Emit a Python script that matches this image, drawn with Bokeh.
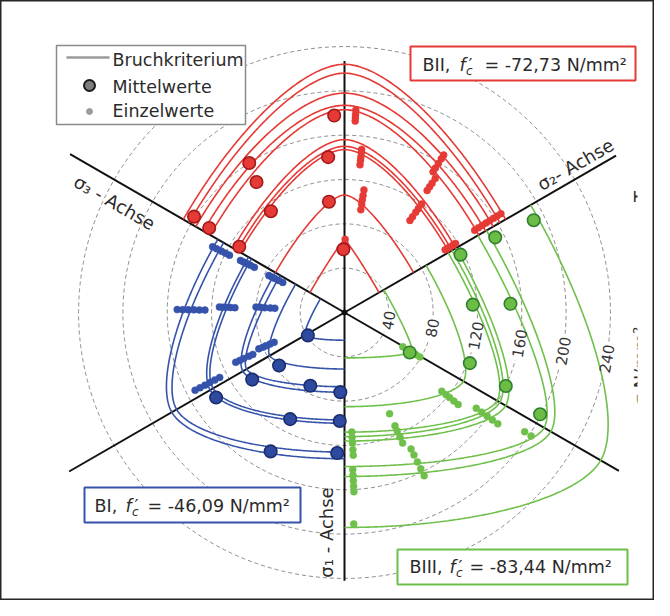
import numpy as np
from bokeh.plotting import figure
from bokeh.models import Range1d
from bokeh.core.properties import value
from bokeh.embed import file_html
from bokeh.resources import INLINE

# ---------------- data (N/mm², angles in degrees in the deviatoric plane) ----------------
ring_values = [40, 80, 120, 160, 200, 240]
ring_labels = ["40", "80", "120", "160", "200", "240"]

# Bruchkriterium curves: radius on the sector axes (rt) and on the sector bisector (rc)
bii_rt = [168, 162, 155, 147, 140, 116, 112, 109, 72, 36]
bii_rc = [224, 216, 198, 187, 183, 156, 150, 147, 106, 65]

bi_rt = [132, 126, 100, 97, 72, 67, 51, 25]
bi_rc = [180, 175, 140, 137, 106, 102, 78, 41]

biii_rt = [41, 85, 108, 112, 116, 139, 148, 194]
biii_rc = [70, 124, 159, 162, 168, 208, 215, 267]

# Mittelwerte (angle, radius)
bii_mean_ang = [93, 96, 98, 91, 122.5, 124, 126, 147.5, 148, 148]
bii_mean_r = [178, 141, 101, 57, 160, 142, 113, 161, 144, 112]
bi_mean_ang = [212, 219, 216, 213.5, 245, 243, 242, 267, 267.5, 267]
bi_mean_r = [39, 76, 103, 139, 73, 108, 142, 72, 98, 127]
biii_mean_ang = [26.5, 26.5, 26, 3.5, 3, -31.5, -22, -24.5, -27.5]
biii_mean_r = [117, 152, 190, 116, 150, 69, 122, 160, 199]

# Einzelwerte (angle of each group, radii in the group)
bii_single_ang = [86.8, 84, 81, 89.5, 57.8, 55.9, 54.6, 32.3, 31.9]
bii_single_r = [[173, 176, 179, 183], [134, 138, 141, 145, 148], [94, 99, 103, 107, 112],
                [58, 62, 66], [150, 154, 159, 164, 168], [133, 137, 141, 146],
                [102, 106, 111, 115, 120], [139, 143, 147, 151, 155, 159, 163, 167],
                [107, 111, 115, 118]]
bi_single_ang = [153.5, 153.4, 154, 179, 177.5, 176.5, 203, 204.6, 207.5]
bi_single_r = [[116, 120, 124, 129, 133], [91, 95, 99, 102, 105], [62, 66, 70, 73, 76],
               [126, 131, 136, 141, 146, 151], [99, 103, 107, 110, 113], [63, 67, 72, 76, 80],
               [69, 73, 77, 80, 84], [91, 95, 100, 104, 108], [127, 132, 137, 142, 147, 152]]
biii_single_ang = [-30.5, -39, -36, -33.5, -66, -64, -86.5, -87, -87.5]
biii_single_r = [[61, 66, 70, 75, 79], [113, 118, 122, 127, 132], [147, 153, 159, 165, 171],
                 [195, 202], [100, 112, 117, 123, 129], [137, 143, 150, 157, 164],
                 [108, 113, 118, 124, 129], [142, 147, 152, 157, 162], [191]]

# ---------------- layout ----------------
SCALE = 1.108          # px per N/mm²
W, H = 654, 600
OX, OY = 344, 312      # canvas position of the origin

RED, RED_EDGE = "#e53a35", "#a3191b"
BLUE, BLUE_FILL, BLUE_EDGE = "#3553aa", "#2e4a9e", "#1b2d6e"
GREEN, GREEN_FILL, GREEN_EDGE = "#6fc04b", "#6cbd45", "#2f7f2f"
FONT = value("DejaVu Sans")


def X(px):
    return (px - 8 - OX) / SCALE


def Y(py):
    return (OY - (py - 8)) / SCALE


def polar(r, deg):
    t = np.radians(deg)
    return np.asarray(r) * np.cos(t), np.asarray(r) * np.sin(t)


def willam_warnke(rt, rc, th):
    c = np.cos(th)
    d = rc ** 2 - rt ** 2
    num = 2 * rc * d * c + rc * (2 * rt - rc) * np.sqrt(np.maximum(4 * d * c ** 2 + 5 * rt ** 2 - 4 * rt * rc, 0))
    den = 4 * d * c ** 2 + (rc - 2 * rt) ** 2
    return num / den


def curve(rt, rc, a0):
    th = np.linspace(0, 120, 241)
    loc = np.radians(np.minimum(th, 120 - th))
    r = willam_warnke(rt, rc, loc)
    phi = np.radians(a0 + th)
    return list(r * np.cos(phi)), list(r * np.sin(phi))


p = figure(width=W, height=H, output_backend="svg", toolbar_location=None,
           x_range=Range1d(-OX / SCALE, (W - OX) / SCALE),
           y_range=Range1d(-(H - OY) / SCALE, OY / SCALE),
           x_axis_location=None, y_axis_location=None, min_border=0,
           background_fill_color="white", border_fill_color="white")
p.grid.visible = False
p.outline_line_color = "#262626"
p.outline_line_width = 2

# dashed rings with a gap for the label
for R, lab in zip(ring_values, ring_labels):
    half = (4.8 * len(lab) + 3) / (R * SCALE)
    p.arc(x=0, y=0, radius=R, start_angle=np.radians(-10) + half,
          end_angle=np.radians(350) - half, line_color="#8c8c8c",
          line_width=1, line_dash="4 3")

# principal stress axes
axis_dirs = [90, 270, 30, 210, 150, -30]
axis_lens = [227, 242, 283, 287, 286, 286]
ex, ey = polar(axis_lens, np.array(axis_dirs, dtype=float))
p.segment(x0=[0] * 6, y0=[0] * 6, x1=list(ex), y1=list(ey), line_color="#111111", line_width=2)


def family(rt, rc, a0, col):
    xs, ys = [], []
    for t, c in zip(rt, rc):
        cx, cy = curve(t, c, a0)
        xs.append(cx)
        ys.append(cy)
    p.multi_line(xs=xs, ys=ys, line_color=col, line_width=1.6)


family(bi_rt, bi_rc, 150, BLUE)
family(biii_rt, biii_rc, 270, GREEN)
family(bii_rt, bii_rc, 30, RED)


def singles(angs, rads, col):
    xs, ys = [], []
    for a, rr in zip(angs, rads):
        sx, sy = polar(rr, a)
        xs += list(sx)
        ys += list(sy)
    p.scatter(xs, ys, size=7, fill_color=col, line_color=col, line_width=0.5)


singles(bi_single_ang, bi_single_r, BLUE)
singles(biii_single_ang, biii_single_r, GREEN)
singles(bii_single_ang, bii_single_r, RED)


def means(angs, rads, fill, edge):
    mx, my = polar(rads, np.array(angs, dtype=float))
    p.scatter(list(mx), list(my), size=12.5, fill_color=fill, line_color=edge, line_width=1.6)


means(bi_mean_ang, bi_mean_r, BLUE_FILL, BLUE_EDGE)
means(biii_mean_ang, biii_mean_r, GREEN_FILL, GREEN_EDGE)
means(bii_mean_ang, bii_mean_r, RED, RED_EDGE)

p.scatter([0], [0], size=5, color="#111111")


def put(px, py, s, size=17.5, angle=0.0, align="left", style="normal", color="#2b2b2b"):
    p.text(x=[X(px)], y=[Y(py)], text=[s], angle=angle, text_font=FONT,
           text_font_size=f"{size}px", text_align=align, text_baseline="middle",
           text_font_style=style, text_color=color)


# ring labels
lx, ly = polar(ring_values, -10.0)
p.text(x=list(lx), y=list(ly), text=ring_labels, angle=np.radians(80), text_font=FONT,
       text_font_size="15px", text_align="center", text_baseline="middle", text_color="#333333")

# axis labels
put(122, 210, "σ₃ - Achse", size=18, angle=-np.pi / 6, align="center")
put(583, 172, "σ₂- Achse", size=18, angle=np.pi / 6, align="center")
put(334, 540, "σ₁ - Achse", size=18, angle=np.pi / 2, align="center")


def box(l, t, r, b, color, lw=2.0):
    p.quad(left=X(l), right=X(r), top=Y(t), bottom=Y(b), fill_color="white",
           line_color=color, line_width=lw)


def series_label(x0, xf, xeq, mid, name, rest, color, box_lrtb):
    box(*box_lrtb, color)
    put(x0, mid, name)
    put(xf, mid, "f", style="italic")
    put(xf + 6.5, mid + 6, "c", size=12, style="italic")
    put(xf + 9, mid, "′", size=17.5)
    put(xeq, mid, rest)


series_label(430, 467, 492, 72, "BII,", "= -72,73 N/mm²", RED, (418, 54, 643, 88))
series_label(102, 133, 155, 513, "BI,", "= -46,09 N/mm²", BLUE, (92, 495, 308, 530))
series_label(417, 457, 477, 574, "BIII,", "= -83,44 N/mm²", GREEN, (405, 557, 635, 592))

# legend
box(64, 53, 253, 132, "#8a8a8a", lw=1.5)
p.line(x=[X(74), X(117)], y=[Y(65), Y(65)], line_color="#9b9b9b", line_width=2.5)
put(120, 67, "Bruchkriterium")
p.scatter([X(97)], [Y(93)], size=11, fill_color="#7d7d7d", line_color="#1a1a1a", line_width=2)
put(120, 94, "Mittelwerte")
p.scatter([X(97)], [Y(119)], size=6, fill_color="#9b9b9b", line_color="#9b9b9b")
put(120, 118, "Einzelwerte")

# clipped fragments at the right edge
put(648, 204, "T", size=18, angle=np.pi / 2, align="center")
put(648, 413, "σ N/mm²", size=18, angle=np.pi / 2, align="left")
p.quad(left=X(645), right=X(659), top=Y(150), bottom=Y(450), fill_color="white", line_color=None)

open("out.html", "w").write(file_html(p, INLINE))
